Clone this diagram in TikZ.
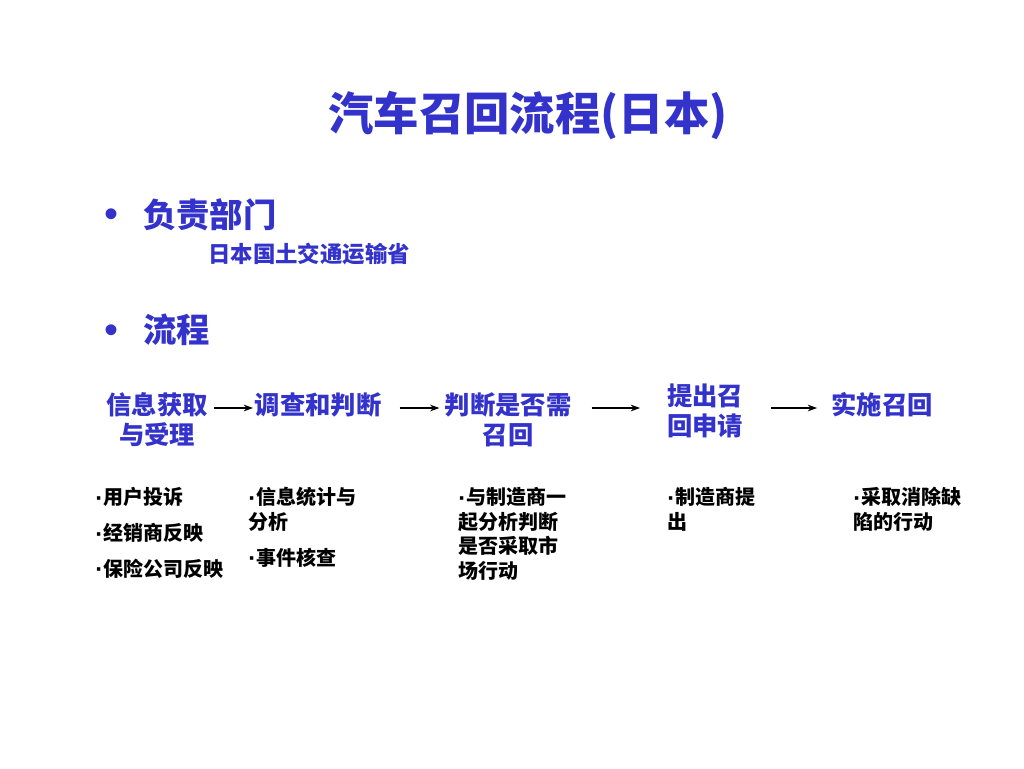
\documentclass[tikz,border=0pt]{standalone}
\usepackage{fontspec}
\setmainfont{Noto Sans CJK SC}
\newfontfamily\dotfont{Liberation Sans}
\usetikzlibrary{positioning,arrows.meta}
\definecolor{recallblue}{RGB}{51,51,204}

\tikzset{
  title/.style={text=recallblue,font=\bfseries\fontsize{34}{40}\selectfont,inner sep=0pt},
  head/.style={text=recallblue,font=\bfseries\fontsize{25}{30}\selectfont,inner sep=0pt,anchor=west},
  dot/.style={text=recallblue,font=\dotfont\fontsize{30}{34}\selectfont,inner sep=0pt},
  sub/.style={text=recallblue,font=\bfseries\fontsize{16.8}{20}\selectfont,inner sep=0pt,anchor=west},
  stage/.style={text=recallblue,font=\bfseries\fontsize{19}{22.5}\selectfont,inner sep=0pt,align=center},
  note/.style={text=black,font=\bfseries\fontsize{15}{18.4}\selectfont,inner sep=0pt,align=left},
  flowarrow/.style={->,line width=0.8pt}
}
\newcommand{\md}{\raisebox{-1.2pt}{\dotfont\bfseries\fontsize{18}{18.4}\selectfont\textperiodcentered}}

\begin{document}
\begin{tikzpicture}[x=0.75pt,y=-0.75pt,>={Stealth[length=7pt,width=5pt]}]
\useasboundingbox[fill=white] (0,0) rectangle (1024,768);

\node[title] (title) at (528,115) {汽车召回流程({日本})};

% bullets
\node[dot] (b1) at (112,218) {•};
\node[head] (dept) at (143,215) {负责部门};
\node[sub] (ministry) at (208,254) {日本国土交通运输省};
\node[dot] (b2) at (112,334) {•};
\node[head] (flow) at (143,330) {流程};

% the five stages
\node[stage] (s1) at (157,420) {信息获取\\与受理};
\node[stage] (s2) at (318,405) {调查和判断};
\node[stage] (s3) at (508,420) {判断是否需\\召回};
\node[stage] (s4) at (705,411) {提出召\\回申请};
\node[stage] (s5) at (882,405) {实施召回};

\draw[flowarrow,shorten <=4.5pt,shorten >=1pt] (s1.east |- 0,408) -- (s2.west |- 0,408);
\draw[flowarrow,shorten <=13.5pt,shorten >=3.75pt] (s2.east |- 0,408) -- (s3.west |- 0,408);
\draw[flowarrow,shorten <=15pt,shorten >=20pt] (s3.east |- 0,408) -- (s4.west |- 0,408);
\draw[flowarrow,shorten <=21pt,shorten >=10.5pt] (s4.east |- 0,408) -- (s5.west |- 0,408);

% notes under the stages
\node[note,anchor=west] (n1a) at (95,497) {\md 用户投诉};
\node[note,below right=12pt and 0pt of n1a.south west] (n1b) {\md 经销商反映};
\node[note,below right=12pt and 0pt of n1b.south west] (n1c) {\md 保险公司反映};

\node[note,anchor=north west] (n2a) at (248,487) {\md 信息统计与\\分析};
\node[note,below right=12pt and 0pt of n2a.south west] (n2b) {\md 事件核查};

\node[note,anchor=north west] (n3) at (458,487) {\md 与制造商一\\起分析判断\\是否采取市\\场行动};
\node[note,anchor=north west] (n4) at (667,487) {\md 制造商提\\出};
\node[note,anchor=north west] (n5) at (853,487) {\md 采取消除缺\\陷的行动};
\end{tikzpicture}
\end{document}
